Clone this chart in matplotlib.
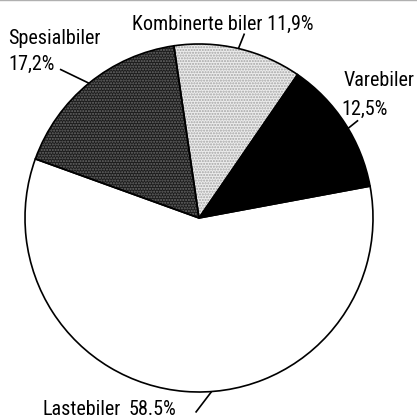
import numpy as np
import matplotlib
matplotlib.use("Agg")
import matplotlib.pyplot as plt
from matplotlib.lines import Line2D
from matplotlib import font_manager

# data, clockwise from the Kombinerte/Varebiler boundary
labels = ["Varebiler", "Lastebiler", "Spesialbiler", "Kombinerte biler"]
shares = [12.5, 58.5, 17.2, 11.9]
share_text = ["12,5%", "58.5%", "17,2%", "11,9%"]

W, H = 417, 418


def py(y):
    # pixel row (from top) -> data y
    return H - y


# look for a narrow sans face, the reference uses a condensed Helvetica
prefs = ["liberation sans narrow", "arial narrow", "roboto condensed",
         "open sans condensed", "dejavu sans condensed"]
found = {}
for f in font_manager.fontManager.ttflist:
    fn = f.fname.lower().replace("-", " ").replace("_", " ")
    if "bold" in fn or "italic" in fn or "oblique" in fn or "light" in fn:
        continue
    key = (f.name + " " + fn.split("/")[-1]).lower().replace("-", " ")
    for p in prefs:
        if p in key or p.replace(" ", "") in key.replace(" ", ""):
            found.setdefault(p, f.fname)
narrow = None
for p in prefs:
    if p in found:
        narrow = found[p]
        break

if narrow:
    fp = font_manager.FontProperties(fname=narrow, size=15)
else:
    fp = font_manager.FontProperties(family="Liberation Sans", size=15)

plt.rcParams["hatch.linewidth"] = 1.0

fig = plt.figure(figsize=(W / 100, H / 100), dpi=100)
ax = fig.add_axes([0, 0, 1, 1])

center = (199, py(218))
radius = 174
start = 55.5

fills = ["black", "white", "#1c1c1c", "#ececec"]
hatch_cols = ["black", "white", "#6a6a6a", "#a4a4a4"]
hatches = [None, None, "......", "......"]

wedges, _ = ax.pie(shares, center=center, radius=radius, startangle=start,
                   counterclock=False, frame=True)
for w, fc, hc, ht in zip(wedges, fills, hatch_cols, hatches):
    w.set_facecolor(fc)
    w.set_edgecolor(hc)
    w.set_linewidth(0)
    if ht:
        w.set_hatch(ht)

# outlines on top
ax.pie(shares, center=center, radius=radius, startangle=start,
       counterclock=False, frame=True,
       wedgeprops=dict(facecolor="none", edgecolor="black", linewidth=1.2))
ax.set_xlim(0, W)
ax.set_ylim(0, H)
ax.set_aspect("equal")
ax.axis("off")

# fit the font size so the top label is about as wide as in the reference
probe = ax.text(0, 0, "Kombinerte biler 11,9%", fontproperties=fp)
fig.canvas.draw()
wpx = probe.get_window_extent().width
probe.remove()
fp.set_size(15 * 182 / wpx)

# label layout: (text, x, baseline row)
text_pos = {
    "Varebiler": [("Varebiler", 344, 86), ("12,5%", 341, 115)],
    "Lastebiler": [("Lastebiler", 43, 415), ("58.5%", 129, 415)],
    "Spesialbiler": [("Spesialbiler", 8, 44), ("17,2%", 8, 70)],
    "Kombinerte biler": [("Kombinerte biler 11,9%", 132, 30)],
}
# leader lines: angle nudge from wedge middle, outer end offset in px (dx, dy down)
leaders = {
    "Varebiler": (-2.0, (10, -8)),
    "Lastebiler": (8.8, (-16, 21)),
    "Spesialbiler": (0.0, (-29, -14)),
    "Kombinerte biler": (0.0, (6, -15)),
}

for w, lab in zip(wedges, labels):
    for s, x, yb in text_pos[lab]:
        ax.text(x, py(yb), s, fontproperties=fp, ha="left", va="baseline", color="black")
    nudge, (ox, oy) = leaders[lab]
    ang = np.deg2rad((w.theta1 + w.theta2) / 2 + nudge)
    x0 = center[0] + radius * np.cos(ang)
    y0 = center[1] + radius * np.sin(ang)
    ax.plot([x0, x0 + ox], [y0, y0 - oy], color="black", lw=1.2, solid_capstyle="butt")

# faint scan line along the top edge
fig.add_artist(Line2D([0, 1], [0.999, 0.999], transform=fig.transFigure,
                      color="#b0b0b0", lw=1.0))

fig.savefig("out.png", dpi=100)
